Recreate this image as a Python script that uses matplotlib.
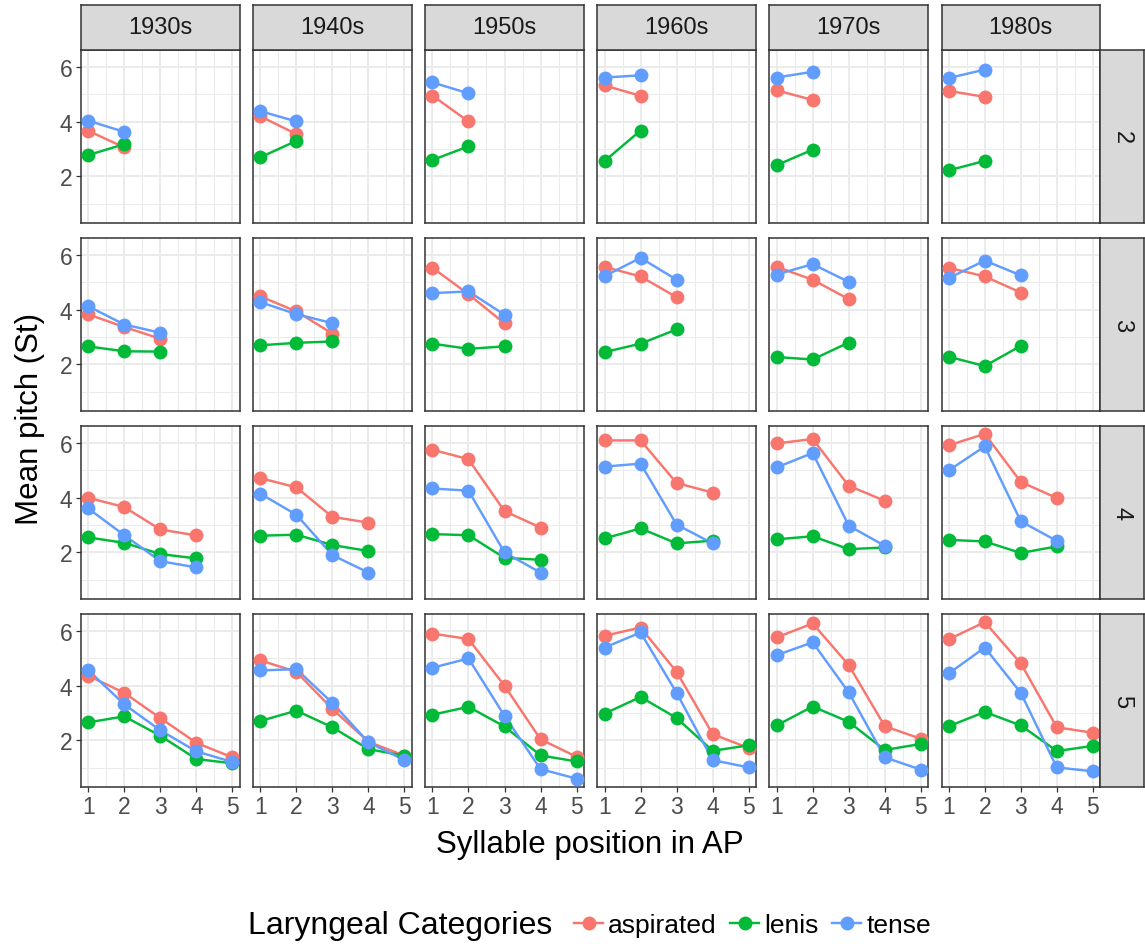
import matplotlib
matplotlib.use("Agg")
import matplotlib.pyplot as plt
from matplotlib.lines import Line2D
import numpy as np

plt.rcParams['font.family'] = ['Liberation Sans', 'DejaVu Sans']

decades = ['1930s', '1940s', '1950s', '1960s', '1970s', '1980s']
ap_lengths = ['2', '3', '4', '5']
categories = ['aspirated', 'lenis', 'tense']
colors = ['#F8766D', '#00BA38', '#619CFF']

asp_ap2 = [[3.67, 3.06], [4.20, 3.55], [4.96, 4.01], [5.33, 4.95], [5.15, 4.80], [5.13, 4.91]]
len_ap2 = [[2.78, 3.18], [2.70, 3.30], [2.60, 3.10], [2.56, 3.68], [2.41, 2.98], [2.22, 2.57]]
ten_ap2 = [[4.04, 3.63], [4.39, 4.01], [5.44, 5.04], [5.62, 5.70], [5.62, 5.83], [5.60, 5.91]]

asp_ap3 = [[3.83, 3.37, 2.94], [4.49, 3.94, 3.13], [5.54, 4.57, 3.50], [5.57, 5.22, 4.46], [5.57, 5.10, 4.39], [5.54, 5.22, 4.63]]
len_ap3 = [[2.66, 2.48, 2.47], [2.70, 2.79, 2.84], [2.76, 2.57, 2.66], [2.45, 2.76, 3.28], [2.27, 2.18, 2.80], [2.28, 1.94, 2.68]]
ten_ap3 = [[4.13, 3.46, 3.16], [4.28, 3.84, 3.51], [4.61, 4.67, 3.82], [5.23, 5.90, 5.10], [5.29, 5.67, 5.02], [5.16, 5.80, 5.26]]

asp_ap4 = [[4.00, 3.66, 2.84, 2.62], [4.72, 4.38, 3.30, 3.09], [5.76, 5.41, 3.51, 2.91], [6.10, 6.10, 4.54, 4.19], [5.99, 6.15, 4.44, 3.89], [5.92, 6.34, 4.58, 3.99]]
len_ap4 = [[2.55, 2.35, 1.94, 1.78], [2.61, 2.65, 2.27, 2.05], [2.67, 2.63, 1.80, 1.73], [2.51, 2.88, 2.33, 2.43], [2.48, 2.59, 2.12, 2.18], [2.46, 2.40, 1.98, 2.22]]
ten_ap4 = [[3.61, 2.63, 1.68, 1.45], [4.15, 3.38, 1.90, 1.26], [4.34, 4.26, 2.00, 1.26], [5.14, 5.25, 3.02, 2.33], [5.11, 5.64, 2.98, 2.24], [5.00, 5.88, 3.14, 2.42]]

asp_ap5 = [[4.37, 3.74, 2.82, 1.91, 1.38], [4.93, 4.51, 3.15, 1.95, 1.44], [5.91, 5.71, 4.00, 2.04, 1.40], [5.83, 6.13, 4.51, 2.23, 1.72], [5.77, 6.28, 4.76, 2.52, 2.06], [5.70, 6.33, 4.82, 2.48, 2.28]]
len_ap5 = [[2.66, 2.88, 2.17, 1.32, 1.16], [2.71, 3.09, 2.48, 1.68, 1.44], [2.94, 3.23, 2.51, 1.45, 1.23], [2.98, 3.59, 2.82, 1.62, 1.82], [2.55, 3.24, 2.68, 1.65, 1.87], [2.52, 3.04, 2.55, 1.61, 1.80]]
ten_ap5 = [[4.57, 3.32, 2.37, 1.60, 1.21], [4.56, 4.61, 3.37, 1.93, 1.28], [4.66, 5.00, 2.90, 0.95, 0.60], [5.40, 5.95, 3.74, 1.28, 1.01], [5.12, 5.59, 3.76, 1.38, 0.93], [4.45, 5.40, 3.74, 1.01, 0.87]]

rows_data = [
    [asp_ap2, len_ap2, ten_ap2],
    [asp_ap3, len_ap3, ten_ap3],
    [asp_ap4, len_ap4, ten_ap4],
    [asp_ap5, len_ap5, ten_ap5],
]

W, H = 1145, 945
fig = plt.figure(figsize=(W / 100, H / 100), dpi=100)

def rect(left, top, w, h):
    return [left / W, 1 - (top + h) / H, w / W, h / H]

# global limits (fixed scales with 5% expansion)
allv = np.concatenate([np.asarray(v, dtype=float) for row in rows_data
                       for ser in row for v in ser])
ymin, ymax = allv.min(), allv.max()
pad = 0.05 * (ymax - ymin)
ylim = (ymin - pad, ymax + pad)
xlim = (1 - 0.2, 5 + 0.2)

col_left0, col_step, col_w = 81, 172.1, 158.6
row_top0, row_step, row_h = 51, 188, 172.5
border = '#333333'
grid_c = '#EBEBEB'
lw_line = 1.75
ms = 10

for r in range(4):
    for c in range(6):
        left = col_left0 + c * col_step
        top = row_top0 + r * row_step
        ax = fig.add_axes(rect(left, top, col_w, row_h))
        ax.set_xlim(*xlim)
        ax.set_ylim(*ylim)
        ax.set_xticks([1, 2, 3, 4, 5])
        ax.set_xticks([1.5, 2.5, 3.5, 4.5], minor=True)
        ax.set_yticks([2, 4, 6])
        ax.set_yticks([1, 3, 5], minor=True)
        ax.grid(True, which='major', color=grid_c, linewidth=1.4, zorder=0)
        ax.grid(True, which='minor', color=grid_c, linewidth=0.7, zorder=0)
        ax.set_axisbelow(True)
        for s in ax.spines.values():
            s.set_color(border)
            s.set_linewidth(1.1)
        ax.tick_params(which='minor', length=0)
        ax.tick_params(which='major', length=3.6, width=0.9, color=border,
                       labelsize=16.5, labelcolor='#4D4D4D', pad=2.5)
        if c != 0:
            ax.tick_params(axis='y', which='major', length=0, labelleft=False)
        if r != 3:
            ax.tick_params(axis='x', which='major', length=0, labelbottom=False)
        series = rows_data[r]
        # lines first (all groups), then points
        for k in range(3):
            yv = series[k][c]
            xv = np.arange(1, len(yv) + 1)
            ax.plot(xv, yv, color=colors[k], linewidth=lw_line, zorder=2,
                    solid_capstyle='butt', clip_on=False)
        for k in range(3):
            yv = series[k][c]
            xv = np.arange(1, len(yv) + 1)
            ax.plot(xv, yv, linestyle='none', marker='o', markersize=ms,
                    markeredgewidth=0, color=colors[k], zorder=3, clip_on=False)

        # top strip
        if r == 0:
            sax = fig.add_axes(rect(left, 5.5, col_w, 45.5))
            sax.set_facecolor('#D9D9D9')
            sax.set_xticks([]); sax.set_yticks([])
            for s in sax.spines.values():
                s.set_color(border); s.set_linewidth(1.1)
            sax.text(0.5, 0.5, decades[c], ha='center', va='center',
                     fontsize=17, color='#1A1A1A', transform=sax.transAxes)
        # right strip
        if c == 5:
            rax = fig.add_axes(rect(left + col_w, top, 43.5, row_h))
            rax.set_facecolor('#D9D9D9')
            rax.set_xticks([]); rax.set_yticks([])
            for s in rax.spines.values():
                s.set_color(border); s.set_linewidth(1.1)
            rax.text(0.5, 0.5, ap_lengths[r], ha='center', va='center',
                     fontsize=17, color='#1A1A1A', rotation=-90,
                     transform=rax.transAxes)

# axis titles
fig.text(30 / W, 1 - 419 / H, 'Mean pitch (St)', rotation=90, ha='center',
         va='center', fontsize=22.5, color='black')
fig.text(590 / W, 1 - 845 / H, 'Syllable position in AP', ha='center',
         va='center', fontsize=22.5, color='black')

# legend
fig.text(248 / W, 1 - 926 / H, 'Laryngeal Categories', ha='left', va='center',
         fontsize=23, color='black')
handles = [Line2D([0], [0], color=colors[k], linewidth=lw_line, marker='o',
                  markersize=ms, markeredgewidth=0) for k in range(3)]
fig.legend(handles, categories, loc='center left',
           bbox_to_anchor=(574 / W, 1 - 926 / H), ncol=3, frameon=False,
           fontsize=19, handlelength=1.1, handletextpad=0.2,
           columnspacing=0.5, borderaxespad=0, borderpad=0)

fig.savefig('out.png', dpi=100)
